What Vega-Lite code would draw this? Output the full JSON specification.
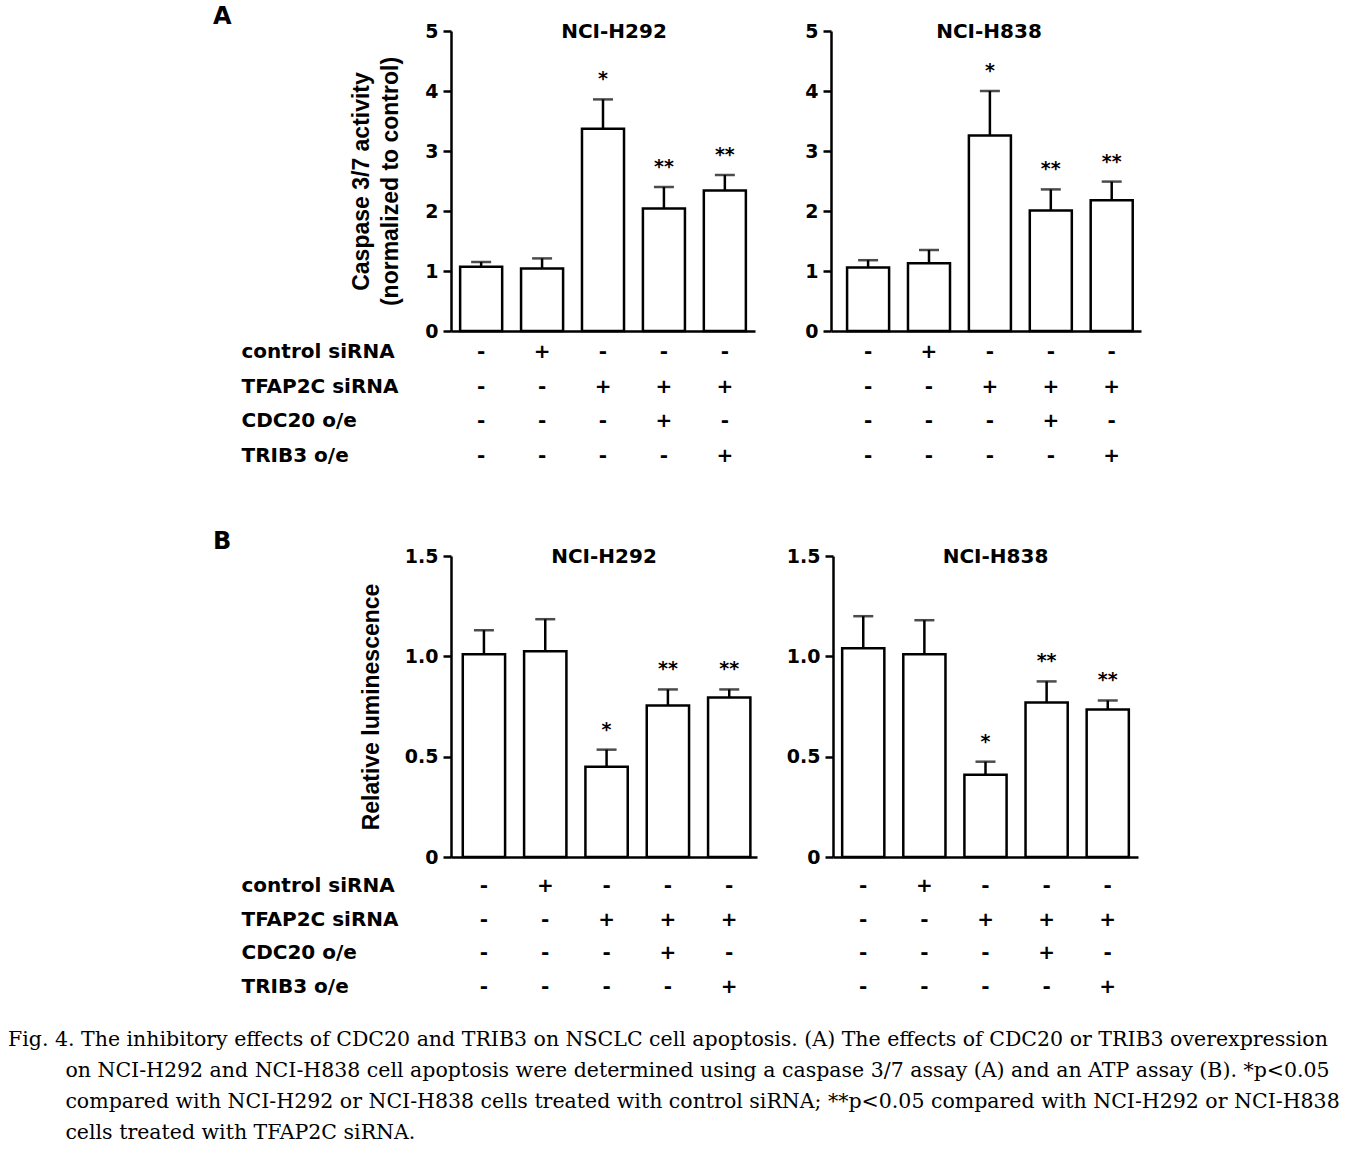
{
  "$schema": "https://vega.github.io/schema/vega-lite/v6.json",
  "background": "white",
  "padding": {"left": 8, "top": 5, "right": 10, "bottom": 5},
  "config": {
    "view": {"stroke": null},
    "axis": {"grid": false, "domainColor": "black", "tickColor": "black", "labelColor": "black", "titleColor": "black"},
    "title": {"color": "black"}
  },
  "datasets": {
    "bars": [
      {"assay": "A", "cell": "NCI-H292", "group": 1, "mean": 1.07, "err": 1.15, "sig": ""},
      {"assay": "A", "cell": "NCI-H292", "group": 2, "mean": 1.04, "err": 1.21, "sig": ""},
      {"assay": "A", "cell": "NCI-H292", "group": 3, "mean": 3.37, "err": 3.86, "sig": "*"},
      {"assay": "A", "cell": "NCI-H292", "group": 4, "mean": 2.04, "err": 2.40, "sig": "**"},
      {"assay": "A", "cell": "NCI-H292", "group": 5, "mean": 2.34, "err": 2.60, "sig": "**"},
      {"assay": "A", "cell": "NCI-H838", "group": 1, "mean": 1.06, "err": 1.18, "sig": ""},
      {"assay": "A", "cell": "NCI-H838", "group": 2, "mean": 1.13, "err": 1.35, "sig": ""},
      {"assay": "A", "cell": "NCI-H838", "group": 3, "mean": 3.26, "err": 4.00, "sig": "*"},
      {"assay": "A", "cell": "NCI-H838", "group": 4, "mean": 2.01, "err": 2.36, "sig": "**"},
      {"assay": "A", "cell": "NCI-H838", "group": 5, "mean": 2.18, "err": 2.49, "sig": "**"},
      {"assay": "B", "cell": "NCI-H292", "group": 1, "mean": 1.01, "err": 1.13, "sig": ""},
      {"assay": "B", "cell": "NCI-H292", "group": 2, "mean": 1.025, "err": 1.185, "sig": ""},
      {"assay": "B", "cell": "NCI-H292", "group": 3, "mean": 0.45, "err": 0.535, "sig": "*"},
      {"assay": "B", "cell": "NCI-H292", "group": 4, "mean": 0.755, "err": 0.835, "sig": "**"},
      {"assay": "B", "cell": "NCI-H292", "group": 5, "mean": 0.795, "err": 0.835, "sig": "**"},
      {"assay": "B", "cell": "NCI-H838", "group": 1, "mean": 1.04, "err": 1.20, "sig": ""},
      {"assay": "B", "cell": "NCI-H838", "group": 2, "mean": 1.01, "err": 1.18, "sig": ""},
      {"assay": "B", "cell": "NCI-H838", "group": 3, "mean": 0.41, "err": 0.475, "sig": "*"},
      {"assay": "B", "cell": "NCI-H838", "group": 4, "mean": 0.77, "err": 0.875, "sig": "**"},
      {"assay": "B", "cell": "NCI-H838", "group": 5, "mean": 0.735, "err": 0.78, "sig": "**"}
    ],
    "design": [
      {"cond": "control siRNA", "group": 1, "sign": "-"},
      {"cond": "control siRNA", "group": 2, "sign": "+"},
      {"cond": "control siRNA", "group": 3, "sign": "-"},
      {"cond": "control siRNA", "group": 4, "sign": "-"},
      {"cond": "control siRNA", "group": 5, "sign": "-"},
      {"cond": "TFAP2C siRNA", "group": 1, "sign": "-"},
      {"cond": "TFAP2C siRNA", "group": 2, "sign": "-"},
      {"cond": "TFAP2C siRNA", "group": 3, "sign": "+"},
      {"cond": "TFAP2C siRNA", "group": 4, "sign": "+"},
      {"cond": "TFAP2C siRNA", "group": 5, "sign": "+"},
      {"cond": "CDC20 o/e", "group": 1, "sign": "-"},
      {"cond": "CDC20 o/e", "group": 2, "sign": "-"},
      {"cond": "CDC20 o/e", "group": 3, "sign": "-"},
      {"cond": "CDC20 o/e", "group": 4, "sign": "+"},
      {"cond": "CDC20 o/e", "group": 5, "sign": "-"},
      {"cond": "TRIB3 o/e", "group": 1, "sign": "-"},
      {"cond": "TRIB3 o/e", "group": 2, "sign": "-"},
      {"cond": "TRIB3 o/e", "group": 3, "sign": "-"},
      {"cond": "TRIB3 o/e", "group": 4, "sign": "-"},
      {"cond": "TRIB3 o/e", "group": 5, "sign": "+"}
    ]
  },
  "title": {
    "text": [
      "Fig. 4. The inhibitory effects of CDC20 and TRIB3 on NSCLC cell apoptosis. (A) The effects of CDC20 or TRIB3 overexpression",
      "\u200b\u2003\u2003\u2002\u2009\u200aon NCI-H292 and NCI-H838 cell apoptosis were determined using a caspase 3/7 assay (A) and an ATP assay (B). *p<0.05",
      "\u200b\u2003\u2003\u2002\u2009\u200acompared with NCI-H292 or NCI-H838 cells treated with control siRNA; **p<0.05 compared with NCI-H292 or NCI-H838",
      "\u200b\u2003\u2003\u2002\u2009\u200acells treated with TFAP2C siRNA."
    ],
    "orient": "bottom", "anchor": "start", "frame": "bounds",
    "font": "DejaVu Serif", "fontSize": 20.5, "fontWeight": "normal", "lineHeight": 31,
    "baseline": "top", "offset": 26, "dx": -205
  },
  "spacing": 57,
  "vconcat": [
    {
      "title": {"text": "A", "anchor": "start", "frame": "bounds", "dx": -28, "offset": -7, "font": "DejaVu Sans", "fontSize": 24, "fontWeight": "bold"},
      "spacing": 49,
      "hconcat": [
        {
          "bounds": "flush", "spacing": 4,
          "vconcat": [
            {
              "width": 304, "height": 300,
              "title": {"text": "NCI-H292", "frame": "group", "anchor": "middle", "offset": -20, "dx": 11, "font": "DejaVu Sans", "fontSize": 20, "fontWeight": "bold"},
              "data": {"name": "bars"},
              "transform": [{"filter": "datum.assay === 'A' && datum.cell === 'NCI-H292'"}],
              "encoding": {"x": {"field": "group", "type": "ordinal", "scale": {"type": "band", "paddingInner": 0.31, "paddingOuter": 0.15}, "axis": {"title": null, "labels": false, "ticks": false, "domainWidth": 2.5}}},
              "layer": [
                {"mark": {"type": "bar", "fill": "white", "stroke": "black", "strokeWidth": 2.5},
                 "encoding": {"y": {"field": "mean", "type": "quantitative", "title": ["Caspase 3/7 activity", "(normalized to control)"], "scale": {"domain": [0, 5], "nice": false},
                   "axis": {"values": [0, 1, 2, 3, 4, 5], "format": "d", "tickSize": 8, "tickWidth": 2.5, "domainWidth": 2.5, "labelFont": "DejaVu Sans", "labelFontWeight": "bold", "labelFontSize": 19, "labelPadding": 5, "titleFont": "Liberation Sans", "titleFontWeight": "bold", "titleFontSize": 23, "titlePadding": 22, "titleLineHeight": 29}}}},
                {"mark": {"type": "rule", "color": "black", "strokeWidth": 2.5},
                 "encoding": {"y": {"field": "mean", "type": "quantitative", "title": ["Caspase 3/7 activity", "(normalized to control)"]}, "y2": {"field": "err"}}},
                {"mark": {"type": "tick", "color": "black", "thickness": 2.5, "size": 20},
                 "encoding": {"y": {"field": "err", "type": "quantitative", "title": ["Caspase 3/7 activity", "(normalized to control)"]}}},
                {"mark": {"type": "text", "font": "DejaVu Sans", "fontWeight": "bold", "fontSize": 19, "dy": -14, "baseline": "alphabetic"},
                 "encoding": {"y": {"field": "err", "type": "quantitative", "title": ["Caspase 3/7 activity", "(normalized to control)"]}, "text": {"field": "sig"}}}
              ]
            },
            {
              "width": 304, "height": 138,
              "data": {"name": "design"},
              "mark": {"type": "text", "font": "DejaVu Sans", "fontWeight": "bold", "fontSize": 20, "baseline": "middle"},
              "encoding": {
                "x": {"field": "group", "type": "ordinal", "scale": {"type": "band", "paddingInner": 0.31, "paddingOuter": 0.15}, "axis": null},
                "y": {"field": "cond", "type": "nominal", "sort": ["control siRNA", "TFAP2C siRNA", "CDC20 o/e", "TRIB3 o/e"], "scale": {"type": "band", "padding": 0},
                      "axis": {"title": null, "domain": false, "ticks": false, "labelAlign": "left", "labelBaseline": "middle", "labelPadding": 210, "labelFont": "DejaVu Sans", "labelFontWeight": "bold", "labelFontSize": 20}},
                "text": {"field": "sign"}
              }
            }
          ]
        },
        {
          "bounds": "flush", "spacing": 4,
          "vconcat": [
            {
              "width": 310, "height": 300,
              "title": {"text": "NCI-H838", "frame": "group", "anchor": "middle", "offset": -20, "dx": 3, "font": "DejaVu Sans", "fontSize": 20, "fontWeight": "bold"},
              "data": {"name": "bars"},
              "transform": [{"filter": "datum.assay === 'A' && datum.cell === 'NCI-H838'"}],
              "encoding": {"x": {"field": "group", "type": "ordinal", "scale": {"type": "band", "paddingInner": 0.31, "paddingOuter": 0.2, "align": 0.66}, "axis": {"title": null, "labels": false, "ticks": false, "domainWidth": 2.5}}},
              "layer": [
                {"mark": {"type": "bar", "fill": "white", "stroke": "black", "strokeWidth": 2.5},
                 "encoding": {"y": {"field": "mean", "type": "quantitative", "title": null, "scale": {"domain": [0, 5], "nice": false},
                   "axis": {"values": [0, 1, 2, 3, 4, 5], "format": "d", "tickSize": 8, "tickWidth": 2.5, "domainWidth": 2.5, "labelFont": "DejaVu Sans", "labelFontWeight": "bold", "labelFontSize": 19, "labelPadding": 5}}}},
                {"mark": {"type": "rule", "color": "black", "strokeWidth": 2.5},
                 "encoding": {"y": {"field": "mean", "type": "quantitative", "title": null}, "y2": {"field": "err"}}},
                {"mark": {"type": "tick", "color": "black", "thickness": 2.5, "size": 20},
                 "encoding": {"y": {"field": "err", "type": "quantitative", "title": null}}},
                {"mark": {"type": "text", "font": "DejaVu Sans", "fontWeight": "bold", "fontSize": 19, "dy": -14, "baseline": "alphabetic"},
                 "encoding": {"y": {"field": "err", "type": "quantitative", "title": null}, "text": {"field": "sig"}}}
              ]
            },
            {
              "width": 310, "height": 138,
              "data": {"name": "design"},
              "mark": {"type": "text", "font": "DejaVu Sans", "fontWeight": "bold", "fontSize": 20, "baseline": "middle"},
              "encoding": {
                "x": {"field": "group", "type": "ordinal", "scale": {"type": "band", "paddingInner": 0.31, "paddingOuter": 0.2, "align": 0.66}, "axis": null},
                "y": {"field": "cond", "type": "nominal", "sort": ["control siRNA", "TFAP2C siRNA", "CDC20 o/e", "TRIB3 o/e"], "scale": {"type": "band", "padding": 0}, "axis": null},
                "text": {"field": "sign"}
              }
            }
          ]
        }
      ]
    },
    {
      "title": {"text": "B", "anchor": "start", "frame": "bounds", "dx": -28, "offset": -7, "font": "DejaVu Sans", "fontSize": 24, "fontWeight": "bold"},
      "spacing": 29,
      "hconcat": [
        {
          "bounds": "flush", "spacing": 12,
          "vconcat": [
            {
              "width": 306, "height": 301,
              "title": {"text": "NCI-H292", "frame": "group", "anchor": "middle", "offset": -20, "dx": 0, "font": "DejaVu Sans", "fontSize": 20, "fontWeight": "bold"},
              "data": {"name": "bars"},
              "transform": [{"filter": "datum.assay === 'B' && datum.cell === 'NCI-H292'"}],
              "encoding": {"x": {"field": "group", "type": "ordinal", "scale": {"type": "band", "paddingInner": 0.31, "paddingOuter": 0.15, "align": 0.64}, "axis": {"title": null, "labels": false, "ticks": false, "domainWidth": 2.5}}},
              "layer": [
                {"mark": {"type": "bar", "fill": "white", "stroke": "black", "strokeWidth": 2.5},
                 "encoding": {"y": {"field": "mean", "type": "quantitative", "title": "Relative luminescence", "scale": {"domain": [0, 1.5], "nice": false},
                   "axis": {"values": [0, 0.5, 1, 1.5], "labelExpr": "datum.value == 0 ? '0' : format(datum.value, '.1f')", "tickSize": 8, "tickWidth": 2.5, "domainWidth": 2.5, "labelFont": "DejaVu Sans", "labelFontWeight": "bold", "labelFontSize": 19, "labelPadding": 5, "titleFont": "Liberation Sans", "titleFontWeight": "bold", "titleFontSize": 23, "titlePadding": 21}}}},
                {"mark": {"type": "rule", "color": "black", "strokeWidth": 2.5},
                 "encoding": {"y": {"field": "mean", "type": "quantitative", "title": "Relative luminescence"}, "y2": {"field": "err"}}},
                {"mark": {"type": "tick", "color": "black", "thickness": 2.5, "size": 20},
                 "encoding": {"y": {"field": "err", "type": "quantitative", "title": "Relative luminescence"}}},
                {"mark": {"type": "text", "font": "DejaVu Sans", "fontWeight": "bold", "fontSize": 19, "dy": -14, "baseline": "alphabetic"},
                 "encoding": {"y": {"field": "err", "type": "quantitative", "title": "Relative luminescence"}, "text": {"field": "sig"}}}
              ]
            },
            {
              "width": 306, "height": 135,
              "data": {"name": "design"},
              "mark": {"type": "text", "font": "DejaVu Sans", "fontWeight": "bold", "fontSize": 20, "baseline": "middle"},
              "encoding": {
                "x": {"field": "group", "type": "ordinal", "scale": {"type": "band", "paddingInner": 0.31, "paddingOuter": 0.15, "align": 0.64}, "axis": null},
                "y": {"field": "cond", "type": "nominal", "sort": ["control siRNA", "TFAP2C siRNA", "CDC20 o/e", "TRIB3 o/e"], "scale": {"type": "band", "padding": 0},
                      "axis": {"title": null, "domain": false, "ticks": false, "labelAlign": "left", "labelBaseline": "middle", "labelPadding": 210, "labelFont": "DejaVu Sans", "labelFontWeight": "bold", "labelFontSize": 20}},
                "text": {"field": "sign"}
              }
            }
          ]
        },
        {
          "bounds": "flush", "spacing": 12,
          "vconcat": [
            {
              "width": 305, "height": 301,
              "title": {"text": "NCI-H838", "frame": "group", "anchor": "middle", "offset": -20, "dx": 10, "font": "DejaVu Sans", "fontSize": 20, "fontWeight": "bold"},
              "data": {"name": "bars"},
              "transform": [{"filter": "datum.assay === 'B' && datum.cell === 'NCI-H838'"}],
              "encoding": {"x": {"field": "group", "type": "ordinal", "scale": {"type": "band", "paddingInner": 0.31, "paddingOuter": 0.15}, "axis": {"title": null, "labels": false, "ticks": false, "domainWidth": 2.5}}},
              "layer": [
                {"mark": {"type": "bar", "fill": "white", "stroke": "black", "strokeWidth": 2.5},
                 "encoding": {"y": {"field": "mean", "type": "quantitative", "title": null, "scale": {"domain": [0, 1.5], "nice": false},
                   "axis": {"values": [0, 0.5, 1, 1.5], "labelExpr": "datum.value == 0 ? '0' : format(datum.value, '.1f')", "tickSize": 8, "tickWidth": 2.5, "domainWidth": 2.5, "labelFont": "DejaVu Sans", "labelFontWeight": "bold", "labelFontSize": 19, "labelPadding": 5}}}},
                {"mark": {"type": "rule", "color": "black", "strokeWidth": 2.5},
                 "encoding": {"y": {"field": "mean", "type": "quantitative", "title": null}, "y2": {"field": "err"}}},
                {"mark": {"type": "tick", "color": "black", "thickness": 2.5, "size": 20},
                 "encoding": {"y": {"field": "err", "type": "quantitative", "title": null}}},
                {"mark": {"type": "text", "font": "DejaVu Sans", "fontWeight": "bold", "fontSize": 19, "dy": -14, "baseline": "alphabetic"},
                 "encoding": {"y": {"field": "err", "type": "quantitative", "title": null}, "text": {"field": "sig"}}}
              ]
            },
            {
              "width": 305, "height": 135,
              "data": {"name": "design"},
              "mark": {"type": "text", "font": "DejaVu Sans", "fontWeight": "bold", "fontSize": 20, "baseline": "middle"},
              "encoding": {
                "x": {"field": "group", "type": "ordinal", "scale": {"type": "band", "paddingInner": 0.31, "paddingOuter": 0.15}, "axis": null},
                "y": {"field": "cond", "type": "nominal", "sort": ["control siRNA", "TFAP2C siRNA", "CDC20 o/e", "TRIB3 o/e"], "scale": {"type": "band", "padding": 0}, "axis": null},
                "text": {"field": "sign"}
              }
            }
          ]
        }
      ]
    }
  ]
}
